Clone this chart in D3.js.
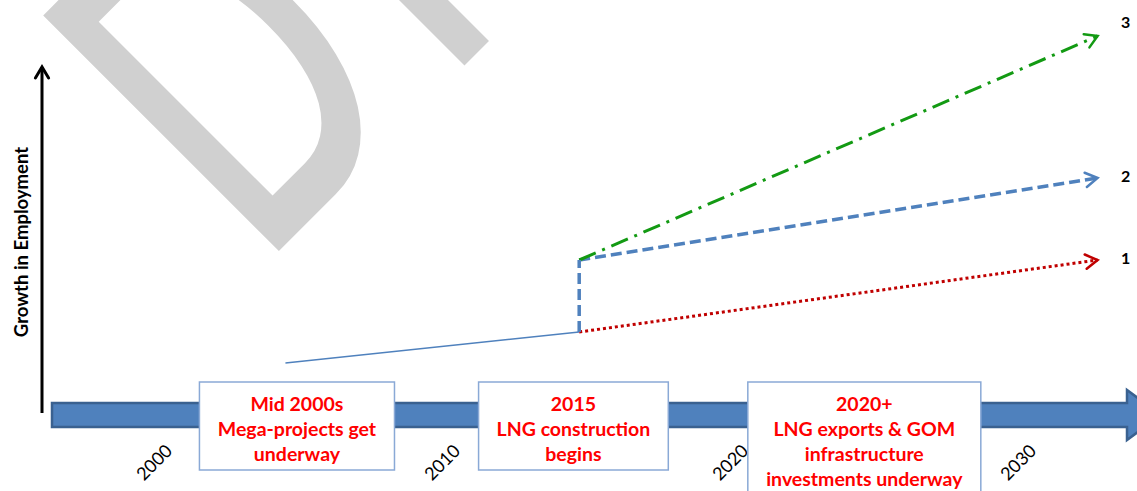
<!DOCTYPE html>
<html>
<head>
<meta charset="utf-8">
<script src="https://cdn.jsdelivr.net/npm/d3@7"></script>
<style>
  html, body { margin: 0; padding: 0; background: #fff; }
  svg { display: block; font-family: Lato, "Open Sans", sans-serif; }
</style>
</head>
<body>
<div id="chart"></div>
<script>
// timeline ticks
var years = [2000, 2010, 2020, 2030];

// growth path: slow rise, then the jump at LNG construction
var baseYears = [2003.8, 2014];
var baseGrowth = [9.25, 17];
var jumpGrowth = [17, 35];

// three scenarios fanning out after the jump
var scenarioNames = ['1', '2', '3'];
var scenarioStartYear = 2014;
var scenarioEndYear = 2032;
var scenarioStart = [17, 35, 35];
var scenarioEnd = [35, 55.5, 91];
var scenarioLabelY = [35.5, 56, 94.5];

// milestone boxes on the timeline
var milestoneYears = [2004.2, 2013.8, 2023.9];
var milestoneText = [
  ['Mid 2000s', 'Mega-projects get', 'underway'],
  ['2015', 'LNG construction', 'begins'],
  ['2020+', 'LNG exports & GOM', 'infrastructure', 'investments underway']
];

var width = 1137, height = 491;

var svg = d3.select('#chart').append('svg')
  .attr('width', width)
  .attr('height', height);

var x = d3.scaleLinear().domain([2000, 2030]).range([176, 1040]);
var y = d3.scaleLinear().domain([0, 100]).range([400, 0]);

//draft watermark behind everything
svg.append('text')
  .attr('transform', 'translate(261,269) rotate(-45) scale(0.64,1)')
  .attr('font-size', 463)
  .attr('font-weight', 600)
  .attr('letter-spacing', 58)
  .attr('fill', '#d0d0d0')
  .text('DRAFT');

// arrow markers
var defs = svg.append('defs');
function chevron(id, color, size, w) {
  defs.append('marker')
    .attr('id', id)
    .attr('markerUnits', 'userSpaceOnUse')
    .attr('viewBox', '-20 -20 40 40')
    .attr('markerWidth', 40)
    .attr('markerHeight', 40)
    .attr('refX', 0).attr('refY', 0)
    .attr('orient', 'auto')
    .append('path')
    .attr('d', 'M' + (-size) + ',' + (-size * 0.6) + 'L0,0L' + (-size) + ',' + (size * 0.6))
    .attr('fill', 'none')
    .attr('stroke', color)
    .attr('stroke-width', w)
    .attr('stroke-linecap', 'round')
    .attr('stroke-linejoin', 'miter');
}
var colors = ['#c00000', '#4f81bd', '#139a13'];
var dashes = ['3,3', '11,5', '18,7,3,7'];
var widths = [3, 3.5, 3];
colors.forEach(function (c, i) { chevron('arr' + i, c, 12, 2.5); });
chevron('arrAxis', '#000', 11, 3);

// vertical axis arrow + label
svg.append('line')
  .attr('x1', 42).attr('y1', 413)
  .attr('x2', 42).attr('y2', 67)
  .attr('stroke', '#000')
  .attr('stroke-width', 3)
  .attr('marker-end', 'url(#arrAxis)');

svg.append('text')
  .attr('transform', 'translate(28,242) rotate(-90)')
  .attr('text-anchor', 'middle')
  .attr('font-size', 18.5)
  .attr('font-weight', 700)
  .attr('fill', '#000')
  .text('Growth in Employment');

// timeline bar with arrow head
svg.append('path')
  .attr('d', 'M52,403H1127V390L1161,415L1127,440V427H52Z')
  .attr('fill', '#4f81bd')
  .attr('stroke', '#3a6190')
  .attr('stroke-width', 2.5);

// year labels
var xAxis = d3.axisBottom(x).tickValues(years).tickFormat(d3.format('d')).tickSize(0);
var axisG = svg.append('g')
  .attr('transform', 'translate(0,452)')
  .call(xAxis);
axisG.select('.domain').remove();
axisG.selectAll('text')
  .attr('x', 0).attr('y', 0).attr('dy', 0)
  .attr('transform', 'translate(-3,0) rotate(-45)')
  .attr('text-anchor', 'end')
  .attr('font-family', 'Lato, sans-serif')
  .attr('font-size', 18)
  .attr('fill', '#000');

// milestone boxes
var lineH = 25;
milestoneText.forEach(function (lines, i) {
  var g = svg.append('g');
  var rect = g.append('rect');
  var t = g.append('text')
    .attr('text-anchor', 'middle')
    .attr('font-size', 19.5)
    .attr('font-weight', 700)
    .attr('fill', '#ff0000');
  t.selectAll('tspan').data(lines).enter().append('tspan')
    .attr('x', x(milestoneYears[i]))
    .attr('y', function (d, j) { return 411 + j * lineH; })
    .text(function (d) { return d; });
  var bb = t.node().getBBox();
  var w = Math.max(bb.width + 36, 188);
  rect.attr('x', x(milestoneYears[i]) - w / 2)
    .attr('y', 382)
    .attr('width', w)
    .attr('height', 88 + (lines.length - 3) * lineH)
    .attr('fill', '#fff')
    .attr('stroke', '#8aa9d6')
    .attr('stroke-width', 1.5);
});

// base growth line
var line = d3.line()
  .x(function (d) { return x(d[0]); })
  .y(function (d) { return y(d[1]); });

svg.append('path')
  .datum(baseYears.map(function (yr, i) { return [yr, baseGrowth[i]]; }))
  .attr('d', line)
  .attr('fill', 'none')
  .attr('stroke', '#4f81bd')
  .attr('stroke-width', 1.5);

// scenarios
scenarioNames.forEach(function (name, i) {
  svg.append('path')
    .datum([[scenarioStartYear, scenarioStart[i]], [scenarioEndYear, scenarioEnd[i]]])
    .attr('d', line)
    .attr('fill', 'none')
    .attr('stroke', colors[i])
    .attr('stroke-width', widths[i])
    .attr('stroke-dasharray', dashes[i])
    .attr('marker-end', 'url(#arr' + i + ')');

  svg.append('text')
    .attr('x', x(scenarioEndYear) + 28)
    .attr('y', y(scenarioLabelY[i]))
    .attr('dy', '0.35em')
    .attr('text-anchor', 'middle')
    .attr('font-size', 16)
    .attr('font-weight', 700)
    .attr('fill', '#000')
    .text(name);
});

// the jump at 2014
svg.append('path')
  .datum([[scenarioStartYear, jumpGrowth[0]], [scenarioStartYear, jumpGrowth[1]]])
  .attr('d', line)
  .attr('fill', 'none')
  .attr('stroke', colors[1])
  .attr('stroke-width', 3.5)
  .attr('stroke-dasharray', '11,5');
</script>
</body>
</html>
